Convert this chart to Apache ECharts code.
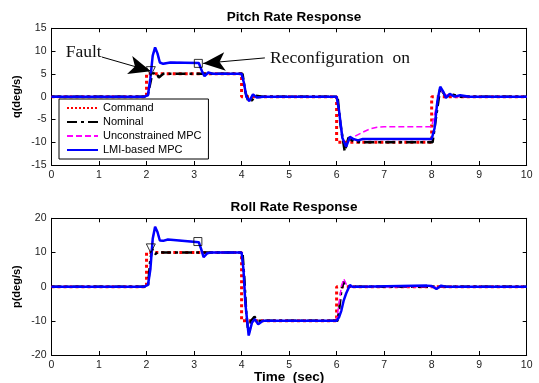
<!DOCTYPE html>
<html>
<head>
<meta charset="utf-8">
<script src="https://cdn.jsdelivr.net/npm/echarts@6/dist/echarts.min.js"></script>
<style>
  html, body { margin: 0; padding: 0; background: #fff; }
  #chart { width: 539px; height: 383px; }
</style>
</head>
<body>
<div id="chart"></div>
<script>
// Step commands and closed-loop responses, [time (s), rate (deg/s)]
const pitchCommand = [[0,0],[2,0],[2,5],[4,5],[4,0],[6,0],[6,-10],[8,-10],[8,0],[10,0]];
const pitchNominal = [[0,0],[2.02,0],[2.08,3],[2.12,5],[2.2,5.3],[2.26,4.2],[2.35,5],[4.02,5],[4.08,1],[4.14,-1],[4.22,-0.8],[4.3,0.2],[4.45,0],
  [6.02,0],[6.08,-6],[6.17,-12],[6.25,-9],[6.35,-9.8],[6.5,-10],[8.02,-10],[8.1,-4],[8.18,1.8],[8.3,0],[8.45,0.4],[8.6,0],[10,0]];
const pitchUnconstrained = [[0,0],[1.95,0],[2.03,0.3],[2.08,4],[2.13,9],[2.18,10.8],[2.23,9.5],[2.28,7.5],[2.35,7.2],[2.5,7.5],[3.1,7.4],
  [3.17,5.5],[3.22,4.5],[3.3,5.3],[3.4,5],[4.0,5],[4.05,3],[4.1,0],[4.16,-1],[4.24,0.5],[4.32,-0.2],[4.45,0],
  [6.0,0],[6.05,-3],[6.12,-9],[6.2,-11],[6.27,-9.3],[6.4,-8.6],[6.55,-7.8],[6.7,-7.1],[6.85,-6.7],[7.0,-6.6],[8.0,-6.6],
  [8.08,-3],[8.18,1.8],[8.28,0.3],[8.38,0.5],[8.5,0],[10,0]];
const pitchLMI = [[0,0],[1.95,0],[2.03,0.3],[2.08,4],[2.13,9],[2.18,10.8],[2.23,9.5],[2.28,7.5],[2.35,7.2],[2.5,7.5],[3.1,7.4],
  [3.17,5.5],[3.22,4.5],[3.3,5.3],[3.4,5],[4.0,5],[4.05,3],[4.1,0],[4.16,-1],[4.24,0.5],[4.32,-0.2],[4.45,0],
  [6.0,0],[6.05,-3],[6.12,-9],[6.2,-11],[6.28,-8.8],[6.35,-9.3],[6.45,-9.6],[6.55,-9.3],[8.0,-9.3],
  [8.06,-7],[8.12,-1],[8.18,2.2],[8.25,1],[8.3,-0.3],[8.38,0.6],[8.48,0],[8.6,0.3],[8.8,0],[10,0]];

const rollCommand = [[0,0],[2,0],[2,10],[4,10],[4,-10],[6,-10],[6,0],[10,0]];
const rollNominal = [[0,0],[2.03,0],[2.08,8],[2.12,11],[2.18,9.5],[2.25,10.2],[2.35,10],[4.02,10],[4.06,2],[4.1,-8],[4.14,-13],
  [4.2,-10],[4.27,-8.8],[4.35,-10],[6.02,-10],[6.06,-6],[6.1,-1],[6.15,1.5],[6.22,0],[10,0]];
const rollUnconstrained = [[0,0],[1.95,0],[2.03,0.5],[2.08,5],[2.13,14],[2.18,17.5],[2.23,16],[2.28,13.5],[2.35,13.4],[2.45,13.8],[3.1,13],
  [3.15,11],[3.2,8.6],[3.28,9.8],[3.35,10],[4.0,10],[4.04,5],[4.08,-5],[4.15,-14.3],[4.22,-10.5],[4.28,-9.5],[4.35,-11],[4.45,-10],
  [6.0,-10],[6.05,-5],[6.1,0],[6.15,2.3],[6.22,0.2],[6.3,0],[10,0]];
const rollLMI = [[0,0],[1.95,0],[2.03,0.5],[2.08,5],[2.13,14],[2.18,17.5],[2.23,16],[2.28,13.5],[2.35,13.4],[2.45,13.8],[3.1,13],
  [3.15,11],[3.2,8.6],[3.28,9.8],[3.35,10],[4.0,10],[4.04,5],[4.08,-5],[4.15,-14.3],[4.22,-10.5],[4.28,-9.5],[4.35,-11],[4.45,-10],
  [6.0,-10],[6.05,-9],[6.1,-7],[6.15,-4],[6.2,-2],[6.28,0.5],[6.33,0],[6.5,0],[7.9,0.3],[8.0,0.2],[8.1,-0.7],[8.2,0.3],[8.3,0],[10,0]];

// Fault onset and reconfiguration instants marked on the curves
const pitchFaultPoint = [2.09, 5.6];
const pitchReconfigPoint = [3.09, 7.3];
const rollFaultPoint = [2.09, 11.2];
const rollReconfigPoint = [3.08, 13.2];

const seriesNames = ['Command', 'Nominal', 'Unconstrained MPC', 'LMI-based MPC'];

const chart = echarts.init(document.getElementById('chart'), null, { renderer: 'canvas' });

const sans = 'Liberation Sans, Arial, sans-serif';
const tickFont = { fontFamily: sans, fontSize: 10.5, color: '#222' };
const serifFont = 'Liberation Serif, Times New Roman, serif';

function xAxes(gridIndex, withName) {
  const base = {
    type: 'value', gridIndex, min: 0, max: 10, interval: 1,
    axisLine: { onZero: false, lineStyle: { color: '#000', width: 1 } },
    axisTick: { inside: true, length: 4, lineStyle: { color: '#000' } },
    splitLine: { show: false }
  };
  return [
    Object.assign({}, base, {
      position: 'bottom',
      axisLabel: Object.assign({ margin: 5 }, tickFont),
      name: withName ? 'Time  (sec)' : '',
      nameLocation: 'middle', nameGap: 15, nameMoveOverlap: false,
      nameTextStyle: { fontFamily: sans, fontWeight: 'bold', fontSize: 13.5, color: '#000' }
    }),
    Object.assign({}, base, { position: 'top', axisLabel: { show: false } })
  ];
}

function yAxes(gridIndex, min, max, interval, name) {
  const base = {
    type: 'value', gridIndex, min, max, interval,
    axisLine: { onZero: false, lineStyle: { color: '#000', width: 1 } },
    axisTick: { inside: true, length: 4, lineStyle: { color: '#000' } },
    splitLine: { show: false }
  };
  return [
    Object.assign({}, base, {
      position: 'left',
      axisLabel: Object.assign({ margin: 5 }, tickFont),
      name, nameLocation: 'middle', nameGap: 29, nameMoveOverlap: false,
      nameTextStyle: { fontFamily: sans, fontWeight: 'bold', fontSize: 11, color: '#000' }
    }),
    Object.assign({}, base, { position: 'right', axisLabel: { show: false } })
  ];
}

const styles = [
  { color: '#ff0000', width: 3, type: 'dotted' },
  { color: '#000000', width: 2.5, type: [10, 4, 3, 4] },
  { color: '#ff00ff', width: 1.5, type: [6, 3] },
  { color: '#0000ff', width: 2.5, type: 'solid' }
];

function lineSeries(name, data, idx, axisIdx) {
  return {
    name, type: 'line', data, xAxisIndex: axisIdx, yAxisIndex: axisIdx,
    symbol: 'none', lineStyle: styles[idx], itemStyle: { color: styles[idx].color },
    z: 2 + idx, silent: true
  };
}

function markerSeries(points, axisIdx) {
  return [
    {
      type: 'scatter', xAxisIndex: axisIdx, yAxisIndex: axisIdx, data: [points[0]],
      symbol: 'triangle', symbolRotate: 180, symbolSize: 9, z: 10,
      itemStyle: { color: 'rgba(0,0,0,0)', borderColor: '#000', borderWidth: 1 }
    },
    {
      type: 'scatter', xAxisIndex: axisIdx, yAxisIndex: axisIdx, data: [points[1]],
      symbol: 'rect', symbolSize: 8, z: 10,
      itemStyle: { color: 'rgba(0,0,0,0)', borderColor: '#000', borderWidth: 1 }
    }
  ];
}

// Annotation arrows and labels in the pitch panel
const annotationSeries = {
  type: 'scatter', xAxisIndex: 0, yAxisIndex: 0, data: [], z: 12, silent: true,
  markLine: {
    silent: true, animation: false,
    symbol: ['none', 'arrow'], symbolSize: [14, 22],
    lineStyle: { color: '#000', width: 1, type: 'solid' },
    label: { show: false },
    data: [
      [{ coord: [1.06, 8.7] }, { coord: pitchFaultPoint }],
      [{ coord: [4.49, 8.5] }, { coord: [3.19, 7.3] }]
    ]
  },
  markPoint: {
    silent: true, animation: false, symbol: 'circle', symbolSize: 0,
    label: { show: true, position: 'right', distance: 0, color: '#111', fontFamily: serifFont, fontSize: 17.5 },
    data: [
      { coord: [0.3, 9.6], label: { formatter: 'Fault' } },
      { coord: [4.6, 8.4], label: { formatter: 'Reconfiguration  on' } }
    ]
  }
};

const option = {
  animation: false,
  backgroundColor: '#fff',
  title: [
    { text: 'Pitch Rate Response', left: 289, top: 5, textAlign: 'center',
      textStyle: { fontFamily: sans, fontWeight: 'bold', fontSize: 13.5, color: '#000' } },
    { text: 'Roll Rate Response', left: 289, top: 195, textAlign: 'center',
      textStyle: { fontFamily: sans, fontWeight: 'bold', fontSize: 13.5, color: '#000' } }
  ],
  grid: [
    { left: 51.5, right: 12.3, top: 28.3, height: 136.7, outerBoundsMode: 'none' },
    { left: 51.5, right: 12.3, top: 218.3, height: 136.7, outerBoundsMode: 'none' }
  ],
  legend: {
    data: seriesNames, orient: 'vertical', left: 59, top: 99,
    backgroundColor: '#fff', borderColor: '#000', borderWidth: 1,
    padding: [3.5, 7, 3.5, 7], itemWidth: 31, itemHeight: 10, itemGap: 3,
    itemStyle: { opacity: 0 },
    textStyle: { fontFamily: sans, fontSize: 11, color: '#000' },
    selectedMode: false
  },
  xAxis: xAxes(0, false).concat(xAxes(1, true)),
  yAxis: yAxes(0, -15, 15, 5, 'q(deg/s)').concat(yAxes(1, -20, 20, 10, 'p(deg/s)')),
  series: [
    lineSeries(seriesNames[0], pitchCommand, 0, 0),
    lineSeries(seriesNames[1], pitchNominal, 1, 0),
    lineSeries(seriesNames[2], pitchUnconstrained, 2, 0),
    lineSeries(seriesNames[3], pitchLMI, 3, 0),
    lineSeries(seriesNames[0], rollCommand, 0, 2),
    lineSeries(seriesNames[1], rollNominal, 1, 2),
    lineSeries(seriesNames[2], rollUnconstrained, 2, 2),
    lineSeries(seriesNames[3], rollLMI, 3, 2),
    ...markerSeries([pitchFaultPoint, pitchReconfigPoint], 0),
    ...markerSeries([rollFaultPoint, rollReconfigPoint], 2),
    annotationSeries
  ]
};

chart.setOption(option);
</script>
</body>
</html>
